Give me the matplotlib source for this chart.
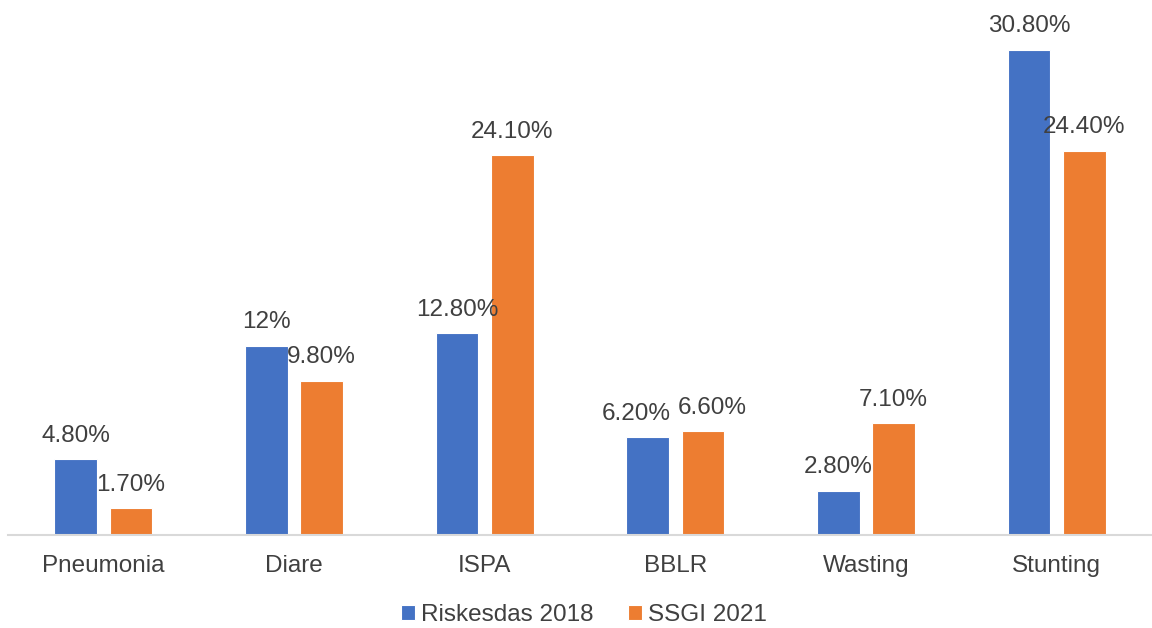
import matplotlib.pyplot as plt
import numpy as np

# data
categories = ["Pneumonia", "Diare", "ISPA", "BBLR", "Wasting", "Stunting"]
riskesdas_2018 = [4.8, 12.0, 12.8, 6.2, 2.8, 30.8]
ssgi_2021 = [1.7, 9.8, 24.1, 6.6, 7.1, 24.4]
labels_2018 = ["4.80%", "12%", "12.80%", "6.20%", "2.80%", "30.80%"]
labels_2021 = ["1.70%", "9.80%", "24.10%", "6.60%", "7.10%", "24.40%"]

plt.rcParams['font.family'] = ['Liberation Sans', 'DejaVu Sans']
txt_color = "#404040"

fig = plt.figure(figsize=(11.52, 6.28), dpi=100)
ax = fig.add_axes([8 / 1152, 93 / 628, 1144 / 1152, 525 / 628])

x = np.arange(len(categories))
w = 0.225
off = 0.145
b1 = ax.bar(x - off, riskesdas_2018, w, color="#4472C4", edgecolor="white", linewidth=0.8, label="Riskesdas 2018")
b2 = ax.bar(x + off, ssgi_2021, w, color="#ED7D31", edgecolor="white", linewidth=0.8, label="SSGI 2021")

t1 = ax.bar_label(b1, labels=labels_2018, padding=9, fontsize=17.5, color=txt_color)
t2 = ax.bar_label(b2, labels=labels_2021, padding=9, fontsize=17.5, color=txt_color)
# BBLR labels pushed apart so they don't collide (as in the original)
t1[3].xyann = (-8, 9)
t2[3].xyann = (7, 9)

ax.set_xlim(-0.5, len(categories) - 0.5)
ax.set_ylim(0, 525 / 15.75)
ax.set_xticks(x)
ax.set_xticklabels(categories, fontsize=17.5, color=txt_color)
ax.tick_params(axis='x', length=0, pad=14.5)
ax.set_yticks([])
for s in ["top", "right", "left"]:
    ax.spines[s].set_visible(False)
ax.spines["bottom"].set_color("#D9D9D9")
ax.spines["bottom"].set_linewidth(1.5)

leg = fig.legend(loc="center", bbox_to_anchor=(584 / 1152, 1 - 615 / 628), ncol=2, frameon=False,
                 fontsize=17.5, handlelength=0.6, handleheight=0.55, handletextpad=0.25,
                 columnspacing=1.4, borderpad=0)
for t in leg.get_texts():
    t.set_color(txt_color)

fig.savefig("out.png", dpi=100)
